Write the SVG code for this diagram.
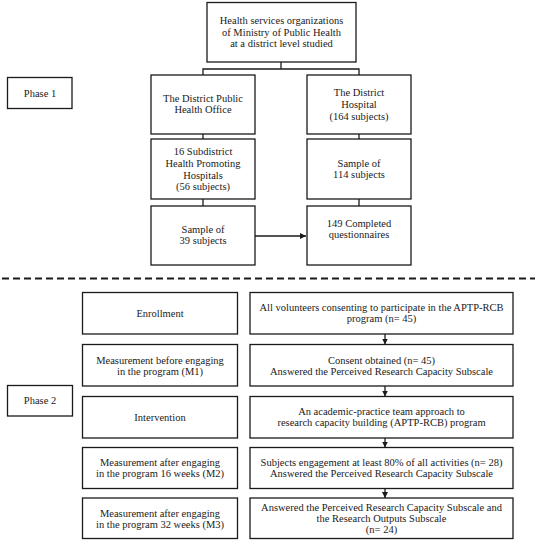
<svg xmlns="http://www.w3.org/2000/svg" width="535" height="550" viewBox="0 0 535 550">
<defs>
<style>
.box{fill:#fff;stroke:#1a1a1a;stroke-width:1.3}
.t{font-family:"Liberation Serif","Times New Roman",serif;font-size:10.5px;fill:#1a1a1a;text-anchor:middle}
.ln{fill:none;stroke:#1a1a1a;stroke-width:1.3}
.dash{fill:none;stroke:#1a1a1a;stroke-width:2;stroke-dasharray:7 4}
</style>
<marker id="ah" viewBox="0 0 8 8" refX="8" refY="4" markerWidth="6" markerHeight="6" markerUnits="userSpaceOnUse" orient="auto">
<path d="M0,0 L8,4 L0,8 Z" fill="#1a1a1a"/>
</marker>
</defs>
<rect width="535" height="550" fill="#fff"/>

<g id="connectors">
<path class="ln" d="M281,62 V69 M203,75 V69 H359 V75"/>
<path class="ln" d="M203,134 V139 M203,199 V206 M359,134 V139 M359,199 V206"/>
<path class="ln" d="M255,236 H306" marker-end="url(#ah)"/>
<line class="dash" x1="2" y1="278.5" x2="535" y2="278.5"/>
<path class="ln" d="M385,334 V344.5" marker-end="url(#ah)"/>
<path class="ln" d="M385,386 V396.5" marker-end="url(#ah)"/>
<path class="ln" d="M385,438 V447.5" marker-end="url(#ah)"/>
<path class="ln" d="M385,488.5 V498" marker-end="url(#ah)"/>
</g>

<g id="top">
<rect class="box" x="207" y="2.5" width="149" height="59.5"/>
<text class="t" x="281.5" y="24">Health services organizations</text>
<text class="t" x="281.5" y="35.5">of Ministry of Public Health</text>
<text class="t" x="281.5" y="47">at a district level studied</text>
</g>

<g id="phase1">
<rect class="box" x="7.5" y="77.5" width="64.5" height="31"/>
<text class="t" x="40" y="96.5">Phase 1</text>
</g>

<g id="dpho">
<rect class="box" x="151" y="75" width="104" height="59"/>
<text class="t" x="203" y="102">The District Public</text>
<text class="t" x="203" y="113">Health Office</text>
</g>

<g id="dh">
<rect class="box" x="307" y="75" width="104" height="59"/>
<text class="t" x="359" y="95.5">The District</text>
<text class="t" x="359" y="107.5">Hospital</text>
<text class="t" x="359" y="119.5">(164 subjects)</text>
</g>

<g id="shph">
<rect class="box" x="151" y="139" width="104" height="60"/>
<text class="t" x="203" y="155">16 Subdistrict</text>
<text class="t" x="203" y="167">Health Promoting</text>
<text class="t" x="203" y="179">Hospitals</text>
<text class="t" x="203" y="190">(56 subjects)</text>
</g>

<g id="s114">
<rect class="box" x="307" y="139" width="104" height="60"/>
<text class="t" x="359" y="167">Sample of</text>
<text class="t" x="359" y="178">114 subjects</text>
</g>

<g id="s39">
<rect class="box" x="151" y="206" width="104" height="59"/>
<text class="t" x="203" y="233">Sample of</text>
<text class="t" x="203" y="244">39 subjects</text>
</g>

<g id="q149">
<rect class="box" x="307" y="206" width="104" height="59"/>
<text class="t" x="359" y="227">149 Completed</text>
<text class="t" x="359" y="238">questionnaires</text>
</g>

<g id="phase2">
<rect class="box" x="7.5" y="385.5" width="65" height="30.5"/>
<text class="t" x="40" y="404">Phase 2</text>
</g>

<g id="enroll-l">
<rect class="box" x="82.5" y="292.5" width="155" height="41.5"/>
<text class="t" x="160" y="316.5">Enrollment</text>
</g>
<g id="enroll-r">
<rect class="box" x="250" y="292.5" width="263" height="41.5"/>
<text class="t" x="381.5" y="311">All volunteers consenting to participate in the APTP-RCB</text>
<text class="t" x="381.5" y="322">program (n= 45)</text>
</g>

<g id="m1-l">
<rect class="box" x="82.5" y="344.5" width="155" height="41.5"/>
<text class="t" x="160" y="363.5">Measurement before engaging</text>
<text class="t" x="160" y="374.5">in the program (M1)</text>
</g>
<g id="m1-r">
<rect class="box" x="250" y="344.5" width="263" height="41.5"/>
<text class="t" x="381.5" y="363.5">Consent obtained (n= 45)</text>
<text class="t" x="381.5" y="374.5">Answered the Perceived Research Capacity Subscale</text>
</g>

<g id="int-l">
<rect class="box" x="82.5" y="396.5" width="155" height="41.5"/>
<text class="t" x="160" y="420.5">Intervention</text>
</g>
<g id="int-r">
<rect class="box" x="250" y="396.5" width="263" height="41.5"/>
<text class="t" x="381.5" y="415">An academic-practice team approach to</text>
<text class="t" x="381.5" y="426">research capacity building (APTP-RCB) program</text>
</g>

<g id="m2-l">
<rect class="box" x="82.5" y="447.5" width="155" height="41"/>
<text class="t" x="160" y="466">Measurement after engaging</text>
<text class="t" x="160" y="477">in the program 16 weeks (M2)</text>
</g>
<g id="m2-r">
<rect class="box" x="250" y="447.5" width="263" height="41"/>
<text class="t" x="381.5" y="466">Subjects engagement at least 80% of all activities (n= 28)</text>
<text class="t" x="381.5" y="477">Answered the Perceived Research Capacity Subscale</text>
</g>

<g id="m3-l">
<rect class="box" x="82.5" y="498" width="155" height="40.5"/>
<text class="t" x="160" y="516.5">Measurement after engaging</text>
<text class="t" x="160" y="527.5">in the program 32 weeks (M3)</text>
</g>
<g id="m3-r">
<rect class="box" x="250" y="498" width="263" height="40.5"/>
<text class="t" x="381.5" y="510.5">Answered the Perceived Research Capacity Subscale and</text>
<text class="t" x="381.5" y="521.5">the Research Outputs Subscale</text>
<text class="t" x="381.5" y="533">(n= 24)</text>
</g>
</svg>
